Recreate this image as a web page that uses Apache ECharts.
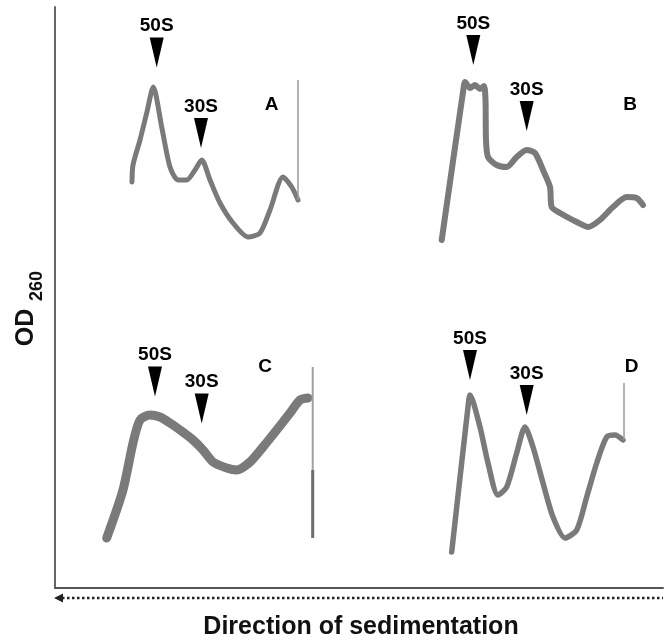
<!DOCTYPE html>
<html>
<head>
<meta charset="utf-8">
<script src="https://cdn.jsdelivr.net/npm/echarts@6.0.0/dist/echarts.min.js"></script>
<style>html,body{margin:0;padding:0;background:#fff}#main{width:669px;height:641px}</style>
</head>
<body>
<div id="main"></div>
<script>
// ---- data (gradient position, relative OD260) ----
const aX = [16, 16.5, 20, 23.35, 26.65, 30.85, 35, 39, 43.35, 47.5, 50.85, 55, 60, 66.5, 74, 80, 85, 91.5, 95.85, 99];
const aY = [0.39, 0.475, 0.60, 0.735, 0.865, 0.665, 0.465, 0.40, 0.40, 0.45, 0.50, 0.40, 0.285, 0.185, 0.115, 0.135, 0.25, 0.415, 0.365, 0.30];
const bX = [5.85, 16.65, 17.5, 20, 22.5, 25, 27, 27.75, 28, 29, 33.35, 38.35, 43.35, 48.35, 52.5, 56.5, 60, 60.85, 65, 73.35, 79, 85, 91.5, 98.35, 103.35, 106.5];
const bY = [0.10, 0.85, 0.89, 0.86, 0.875, 0.855, 0.87, 0.80, 0.60, 0.515, 0.475, 0.465, 0.515, 0.55, 0.535, 0.45, 0.365, 0.265, 0.235, 0.19, 0.165, 0.20, 0.265, 0.315, 0.31, 0.275];
const cX = [3.35, 11.5, 16.5, 20, 25, 30, 35, 40, 46.5, 51.5, 56.5, 63.35, 68.35, 75, 81.5, 88.35, 95, 100, 104];
const cY = [0.16, 0.40, 0.635, 0.75, 0.775, 0.765, 0.735, 0.70, 0.65, 0.60, 0.54, 0.51, 0.50, 0.54, 0.615, 0.70, 0.785, 0.85, 0.86];
const dX = [10.85, 19, 20, 25, 29, 34, 38.35, 43.35, 47.5, 51.5, 56.5, 61.5, 67.5, 73.35, 78.35, 83.35, 88.35, 92.5, 96.5];
const dY = [0.09, 0.815, 0.875, 0.715, 0.535, 0.375, 0.415, 0.585, 0.715, 0.615, 0.435, 0.265, 0.16, 0.20, 0.365, 0.535, 0.665, 0.675, 0.65];

// end-of-gradient spikes
const spikeAX = [99, 99],         spikeAY = [0.30, 0.90];
const spikeCX = [106.35, 106.35], spikeCY = [1.015, 0.16];
const spikeCLowX = [106.35, 106.35], spikeCLowY = [0.50, 0.16];
const spikeDX = [97, 97],         spikeDY = [0.65, 0.935];

// subunit markers
const markerNames = ['50S', '30S'];
const markAX = [28.35, 50.5],  markAY = [1.0375, 0.635];
const markBX = [21.65, 48.35], markBY = [1.05, 0.72];
const markCX = [27.5, 50.85],  markCY = [0.9425, 0.8075];
const markDX = [20, 48.35],    markDY = [1.025, 0.85];

// panel letters
const letters = ['A', 'B', 'C', 'D'];
const letterX = [85.85, 100, 82.5, 100.85];
const letterY = [0.775, 0.775, 1.015, 1.0165];

const xTitle = 'Direction of sedimentation';
const yTitle = 'OD';
const ySub = '260';

// ---- build ----
const zip = (xs, ys) => xs.map((x, i) => [x, ys[i]]);
const FONT = 'Liberation Sans, Arial, sans-serif';
const GRAY = '#7a7a7a';

const panels = [
  {grid: {left: 100, top: 20, width: 220, height: 240}, x: aX, y: aY, w: 5, mx: markAX, my: markAY},
  {grid: {left: 430, top: 20, width: 220, height: 240}, x: bX, y: bY, w: 6, mx: markBX, my: markBY},
  {grid: {left: 100, top: 330, width: 220, height: 240}, x: cX, y: cY, w: 9, mx: markCX, my: markCY},
  {grid: {left: 430, top: 330, width: 220, height: 240}, x: dX, y: dY, w: 5.5, mx: markDX, my: markDY}
];

const grids = [{left: 55, top: 7, right: 6, bottom: 53}];
const xAxes = [{gridIndex: 0, type: 'value', min: 0, max: 1,
  axisLine: {show: true, onZero: false, lineStyle: {color: '#555', width: 2}},
  axisTick: {show: false}, axisLabel: {show: false}, splitLine: {show: false}}];
const yAxes = [{gridIndex: 0, type: 'value', min: 0, max: 1,
  axisLine: {show: true, onZero: false, lineStyle: {color: '#666', width: 2}},
  axisTick: {show: false}, axisLabel: {show: false}, splitLine: {show: false}}];
const series = [];

panels.forEach((p, i) => {
  const gi = i + 1;
  grids.push(p.grid);
  xAxes.push({gridIndex: gi, type: 'value', min: 0, max: 110, show: false});
  yAxes.push({gridIndex: gi, type: 'value', min: 0, max: 1.2, show: false});
  series.push({
    type: 'line', xAxisIndex: gi, yAxisIndex: gi, data: zip(p.x, p.y),
    symbol: 'none', smooth: 0.25,
    lineStyle: {color: GRAY, width: p.w, join: 'round', cap: 'round'}
  });
  series.push({
    type: 'scatter', xAxisIndex: gi, yAxisIndex: gi,
    data: p.mx.map((x, k) => ({name: markerNames[k], value: [x, p.my[k]]})),
    symbol: 'triangle', symbolRotate: 180, symbolSize: [14, 30],
    itemStyle: {color: '#000', opacity: 1},
    emphasis: {disabled: true},
    label: {show: true, position: 'top', distance: 2, formatter: '{b}',
      fontFamily: FONT, fontWeight: 'bold', fontSize: 19, color: '#000'}
  });
  series.push({
    type: 'scatter', xAxisIndex: gi, yAxisIndex: gi,
    data: [{name: letters[i], value: [letterX[i], letterY[i]]}],
    symbolSize: 1, itemStyle: {color: 'rgba(0,0,0,0)', opacity: 1},
    emphasis: {disabled: true},
    label: {show: true, position: 'inside', formatter: '{b}',
      fontFamily: FONT, fontWeight: 'bold', fontSize: 19, color: '#000'}
  });
});

const spikes = [
  {gi: 1, x: spikeAX, y: spikeAY, w: 1.5, c: '#9a9a9a'},
  {gi: 3, x: spikeCX, y: spikeCY, w: 2, c: '#a0a0a0'},
  {gi: 3, x: spikeCLowX, y: spikeCLowY, w: 3, c: '#6e6e6e'},
  {gi: 4, x: spikeDX, y: spikeDY, w: 1.5, c: '#9a9a9a'}
];
spikes.forEach(s => series.push({
  type: 'line', xAxisIndex: s.gi, yAxisIndex: s.gi, data: zip(s.x, s.y),
  symbol: 'none', lineStyle: {color: s.c, width: s.w}
}));

const chart = echarts.init(document.getElementById('main'));
chart.setOption({
  animation: false,
  backgroundColor: '#fff',
  grid: grids, xAxis: xAxes, yAxis: yAxes, series: series,
  graphic: [
    {type: 'line', shape: {x1: 62, y1: 598, x2: 663, y2: 598},
      style: {stroke: '#222', lineWidth: 2.5, lineDash: [2.5, 2.5]}},
    {type: 'polygon', shape: {points: [[54, 598], [63, 593.5], [63, 602.5]]},
      style: {fill: '#222'}},
    {type: 'text', x: 361, y: 627,
      style: {text: xTitle, font: 'bold 25px ' + FONT, fill: '#111', align: 'center', verticalAlign: 'middle'}},
    {type: 'text', x: 26, y: 327.5, rotation: Math.PI / 2,
      style: {text: yTitle, font: 'bold 25px ' + FONT, fill: '#111', align: 'center', verticalAlign: 'middle'}},
    {type: 'text', x: 37, y: 286, rotation: Math.PI / 2,
      style: {text: ySub, font: 'bold 18px ' + FONT, fill: '#111', align: 'center', verticalAlign: 'middle'}}
  ]
});
</script>
</body>
</html>
